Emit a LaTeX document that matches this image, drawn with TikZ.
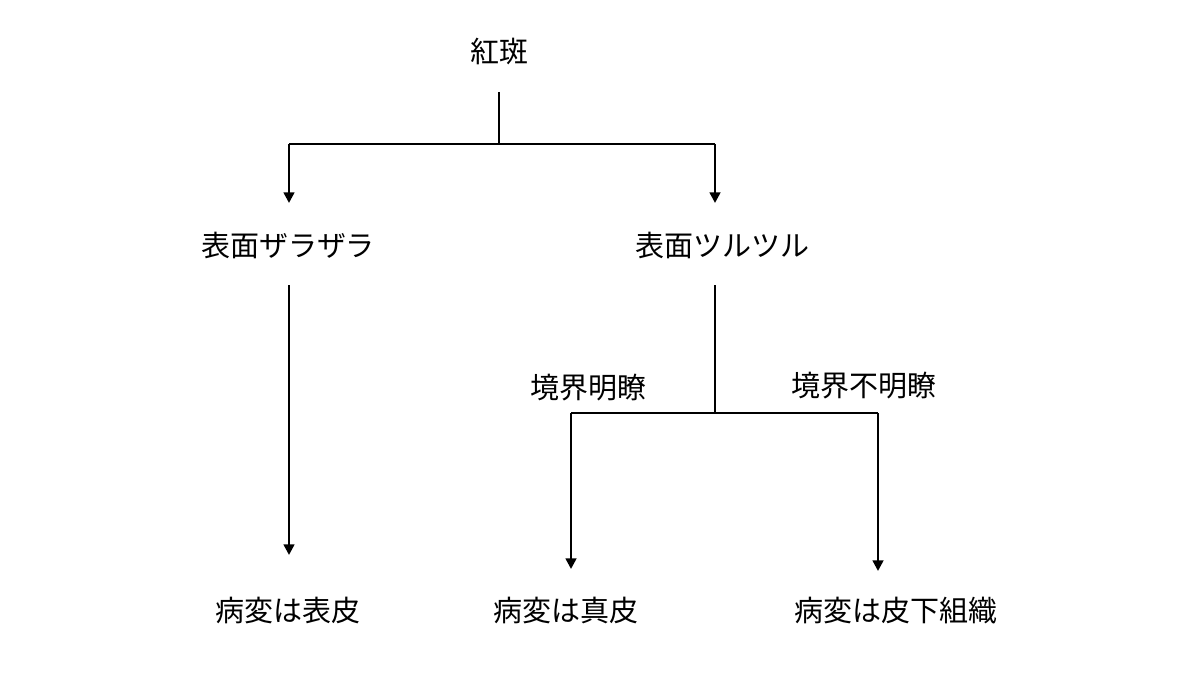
\documentclass[tikz,border=0pt]{standalone}
\usepackage{fontspec}
\newfontfamily\jp{Noto Sans CJK JP}
\usetikzlibrary{arrows.meta, positioning}

\begin{document}
\begin{tikzpicture}[
  label/.style={font=\jp\fontsize{16.5}{20}\selectfont, inner sep=2pt},
  branch/.style={line width=1.4pt},
  flow/.style={line width=1.4pt, -{Triangle[length=6pt, width=6pt]}}
]
  \useasboundingbox (0,0) rectangle (24,13.56);

  % Nodes
  \node[label] (kohan) at (9.98, 12.52) {紅斑};
  \node[label] (zara) at (5.76, 8.66) {表面ザラザラ};
  \node[label] (tsuru) at (14.44, 8.66) {表面ツルツル};
  \node[label] (clear) at (11.76, 5.80) {境界明瞭};
  \node[label] (unclear) at (17.28, 5.84) {境界不明瞭};
  \node[label] (epi) at (5.76, 1.34) {病変は表皮};
  \node[label] (derm) at (11.32, 1.34) {病変は真皮};
  \node[label] (subcut) at (17.92, 1.34) {病変は皮下組織};

  % Junctions
  \coordinate (topout) at (9.98, 11.72);
  \coordinate (topjoin) at (9.98, 10.68);
  \coordinate (topleft) at (5.78, 10.68);
  \coordinate (topright) at (14.30, 10.68);
  \coordinate (zaraend) at (5.78, 9.50);
  \coordinate (tsuruend) at (14.30, 9.50);
  \coordinate (zaraout) at (5.78, 7.86);
  \coordinate (epiend) at (5.78, 2.46);
  \coordinate (tsuruout) at (14.30, 7.86);
  \coordinate (midjoin) at (14.30, 5.30);
  \coordinate (midleft) at (11.42, 5.30);
  \coordinate (midright) at (17.56, 5.30);
  \coordinate (dermend) at (11.42, 2.18);
  \coordinate (subcutend) at (17.56, 2.14);

  % Top split
  \draw[branch] (topout) -- (topjoin);
  \draw[branch] (topleft) -- (topright);
  \draw[flow] (topleft) -- (zaraend);
  \draw[flow] (topright) -- (tsuruend);

  % Left branch
  \draw[flow] (zaraout) -- (epiend);

  % Right split
  \draw[branch] (tsuruout) -- (midjoin);
  \draw[branch] (midleft) -- (midright);
  \draw[flow] (midleft) -- (dermend);
  \draw[flow] (midright) -- (subcutend);
\end{tikzpicture}
\end{document}
